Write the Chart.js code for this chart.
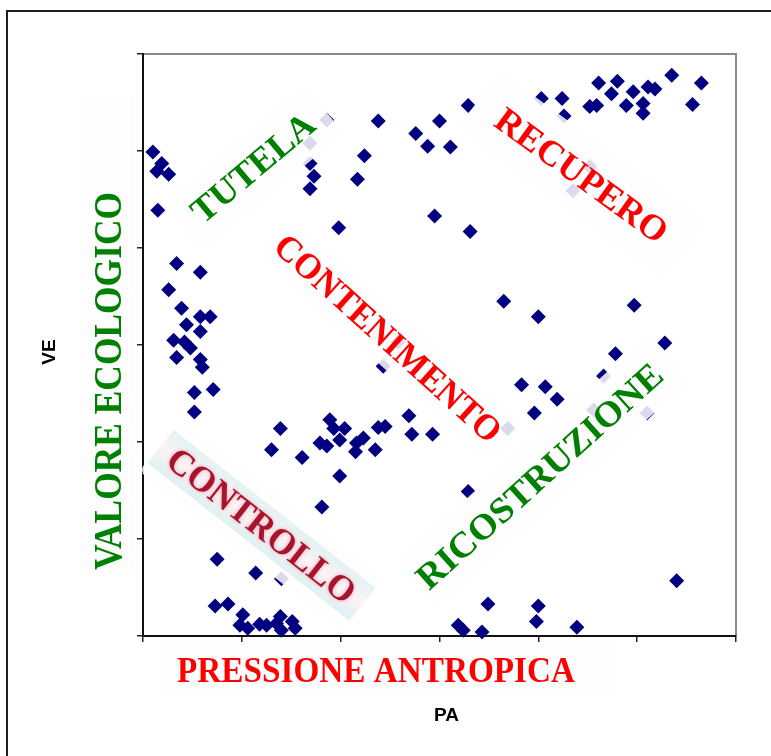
<!DOCTYPE html>
<html>
<head>
<meta charset="utf-8">
<title>VE / PA</title>
<script src="https://cdn.jsdelivr.net/npm/chart.js@4.4.1/dist/chart.umd.min.js"></script>
<style>
    html, body { margin: 0; padding: 0; background: #fff; }
    canvas { display: block; }
</style>
</head>
<body>
<canvas id="ve-pa-chart" width="771" height="756"></canvas>
<script>
// Pressione antropica (PA) of each site
const paValues = [
    0.10, 0.19, 0.14, 0.26, 0.15, 0.34, 0.58, 0.26, 0.39, 0.44, 0.58, 0.68, 0.58, 0.31, 0.42, 0.48,
    0.34, 0.58, 0.60, 0.52, 0.71, 0.52,
    1.69, 1.73, 1.69, 1.86, 1.69, 1.98, 2.17, 2.24, 2.38, 2.76, 3.00, 2.88, 3.11, 2.95, 3.29, 3.31,
    4.03, 4.24, 4.26, 4.61, 4.80, 4.74, 4.52, 4.59, 4.96, 4.89, 5.06, 5.06, 5.11, 5.18, 5.35, 5.65,
    5.56, 4.52, 4.35,
    3.65, 4.00, 4.97, 5.28, 4.78, 4.66, 3.83, 4.07, 4.19, 3.96, 3.69, 4.56, 5.10, 2.58, 2.43,
    2.69, 2.72, 2.93, 1.39, 1.30, 1.61, 1.89, 1.93, 2.04, 1.99, 1.79, 1.86, 2.23, 2.16, 2.15, 2.35,
    2.38, 2.45, 1.99, 1.81, 3.29,
    0.75, 1.14, 1.40, 0.73, 0.86, 1.01, 0.98, 1.06, 1.18, 1.25, 1.39, 1.35, 1.40, 1.51, 1.54,
    5.40, 3.49, 4.00, 3.98, 3.19, 3.24, 3.43, 4.39
];

// Valore ecologico (VE) of each site, same order
const veValues = [
    4.99, 4.87, 4.79, 4.76, 4.39, 3.84, 3.75, 3.57, 3.38, 3.21, 3.29, 3.29, 3.14, 3.05, 3.03, 2.97,
    2.87, 2.85, 2.77, 2.51, 2.54, 2.31,
    4.87, 4.74, 4.61, 5.32, 5.08, 4.21, 4.71, 4.95, 5.31, 5.18, 5.31, 5.05, 5.04, 4.33, 5.47, 4.17,
    5.54, 5.54, 5.36, 5.70, 5.72, 5.59, 5.46, 5.47, 5.61, 5.47, 5.49, 5.39, 5.66, 5.64, 5.78, 5.70,
    5.48, 4.84, 4.59,
    3.45, 3.29, 3.41, 3.02, 2.91, 2.68, 2.59, 2.57, 2.44, 2.30, 2.14, 2.33, 2.30, 3.03, 2.78,
    2.27, 2.08, 2.08, 2.14, 1.92, 1.84, 2.23, 2.14, 2.14, 2.02, 1.99, 1.96, 2.04, 1.99, 1.90, 1.92,
    2.15, 2.16, 1.65, 1.33, 1.49,
    0.79, 0.65, 0.59, 0.31, 0.33, 0.22, 0.11, 0.08, 0.12, 0.11, 0.20, 0.13, 0.06, 0.15, 0.08,
    0.57, 0.33, 0.31, 0.15, 0.11, 0.06, 0.04, 0.09
];

const axisMin = 0;
const axisMax = 6;
const axisStep = 1;

// Zone names written across the plot, anchored in PA/VE units.
// veil = [uStart, uEnd, nStart, nEnd] of the pale card behind the text (px, text frame)
const zoneLabels = [
    {text: "TUTELA", pa: 1.11, ve: 4.83, angle: -40, color: "#008000", size: 36, length: 150, veil: [-92, 92, -30, 32]},
    {text: "RECUPERO", pa: 4.44, ve: 4.75, angle: 36, color: "#ff0000", size: 36, length: 204, veil: [-128, 128, -36, 36]},
    {text: "CONTENIMENTO", pa: 2.48, ve: 3.07, angle: 42, color: "#ff0000", size: 36, length: 292, veil: [-150, 158, -25, 25]},
    {text: "RICOSTRUZIONE", pa: 4.01, ve: 1.65, angle: -42, color: "#008000", size: 36, length: 318, veil: [-165, 175, -32, 30]},
    {text: "CONTROLLO", pa: 1.20, ve: 1.14, angle: 38, color: "#a8142c", size: 36, length: 229, veil: [-130, 130, -33, 33], faded: true}
];

const SERIF = '"Liberation Serif", "Times New Roman", serif';
const SANS = '"Liberation Sans", Arial, sans-serif';

// caps-only text centred on (0,0), squeezed to the wanted length
function fillCaps(ctx, text, size, length){
    ctx.font = `bold ${size}px ${SERIF}`;
    ctx.textAlign = "center";
    ctx.textBaseline = "alphabetic";
    const natural = ctx.measureText(text).width;
    ctx.save();
    ctx.scale(length / natural, 1);
    ctx.fillText(text, 0, size * 0.33);
    ctx.restore();
};

const frameAndTitles = {
    id: "frameAndTitles",
    beforeDraw(chart){
        const ctx = chart.ctx;
        const area = chart.chartArea;
        ctx.save();
        // outer frame of the figure
        ctx.strokeStyle = "#1e1e1e";
        ctx.lineWidth = 2;
        ctx.strokeRect(7, 11, 900, 900);

        // pale cards behind the axis names
        ctx.fillStyle = "#fdfdfd";
        ctx.fillRect(area.left + 17, area.bottom + 5, 458, 56);
        ctx.fillRect(area.left - 65, area.top + 40, 56, 480);

        // plot frame, top and right sides
        ctx.strokeStyle = "#8a8a8a";
        ctx.lineWidth = 2;
        ctx.beginPath();
        ctx.moveTo(area.left, area.top);
        ctx.lineTo(area.right, area.top);
        ctx.lineTo(area.right, area.bottom);
        ctx.stroke();
        ctx.restore();
    },
    afterDraw(chart){
        const ctx = chart.ctx;
        const area = chart.chartArea;
        ctx.save();

        ctx.fillStyle = "#ff0000";
        ctx.save();
        ctx.translate(area.left + 233, area.bottom + 34);
        fillCaps(ctx, "PRESSIONE ANTROPICA", 36, 398);
        ctx.restore();

        ctx.fillStyle = "#008000";
        ctx.save();
        ctx.translate(area.left - 36, 381);
        ctx.rotate(-Math.PI / 2);
        fillCaps(ctx, "VALORE ECOLOGICO", 41, 378);
        ctx.restore();

        // axis titles
        ctx.fillStyle = "#000";
        ctx.font = `bold 19px ${SANS}`;
        ctx.textAlign = "center";
        ctx.textBaseline = "middle";
        ctx.fillText("PA", (area.left + area.right) / 2 + 7, 716);
        ctx.save();
        ctx.translate(50, (area.top + area.bottom) / 2 + 7);
        ctx.rotate(-Math.PI / 2);
        ctx.fillText("VE", 0, 0);
        ctx.restore();

        ctx.restore();
    }
};

const zoneLabelsPlugin = {
    id: "zoneLabels",
    afterDatasetsDraw(chart){
        const ctx = chart.ctx;
        const xScale = chart.scales.x;
        const yScale = chart.scales.y;

        // veils first, so no card washes out another zone's name
        zoneLabels.forEach(label => {
            const [u0, u1, n0, n1] = label.veil;
            ctx.save();
            ctx.translate(xScale.getPixelForValue(label.pa), yScale.getPixelForValue(label.ve));
            ctx.rotate(label.angle * Math.PI / 180);
            ctx.shadowColor = "rgba(0,0,0,0.025)";
            ctx.shadowBlur = 4;
            ctx.fillStyle = "rgba(254,254,254,0.86)";
            ctx.beginPath();
            ctx.roundRect(u0, n0, u1 - u0, n1 - n0, 8);
            ctx.fill();
            ctx.restore();
        });

        zoneLabels.forEach(label => {
            ctx.save();
            ctx.translate(xScale.getPixelForValue(label.pa), yScale.getPixelForValue(label.ve));
            ctx.rotate(label.angle * Math.PI / 180);
            if (label.faded){
                const grad = ctx.createLinearGradient(0, -21, 0, 21);
                grad.addColorStop(0, "#e2f3f3");
                grad.addColorStop(0.5, "#fcf3f5");
                grad.addColorStop(1, "#dff1f2");
                ctx.fillStyle = grad;
                ctx.fillRect(-128, -21, 256, 42);
                ctx.filter = "blur(0.5px)";
                ctx.shadowColor = "rgba(235,90,120,0.55)";
                ctx.shadowBlur = 4;
                ctx.strokeStyle = "rgba(70,0,15,0.55)";
            }
            ctx.fillStyle = label.color;
            fillCaps(ctx, label.text, label.size, label.length);
            ctx.restore();
        });
    }
};

const points = paValues.map((pa, i) => ({x: pa, y: veValues[i]}));

const axisOptions = {
    type: "linear",
    min: axisMin,
    max: axisMax,
    ticks: {display: false, stepSize: axisStep},
    grid: {drawOnChartArea: false, drawTicks: true, tickLength: 6, color: "#222", lineWidth: 1.5},
    border: {display: true, color: "#111", width: 2}
};

const veChart = new Chart(document.querySelector("#ve-pa-chart"), {
    type: "scatter",
    data: {
        datasets: [{
            label: "VE",
            data: points,
            pointStyle: "rectRot",
            pointRadius: 7.5,
            pointBorderWidth: 0,
            backgroundColor: "#000080",
            borderColor: "#000080",
            clip: false
        }]
    },
    options: {
        responsive: false,
        animation: false,
        layout: {padding: {left: 137, right: 35, top: 54, bottom: 114}},
        plugins: {
            legend: {display: false},
            tooltip: {enabled: false}
        },
        scales: {
            x: axisOptions,
            y: axisOptions
        }
    },
    plugins: [frameAndTitles, zoneLabelsPlugin]
});
</script>
</body>
</html>
